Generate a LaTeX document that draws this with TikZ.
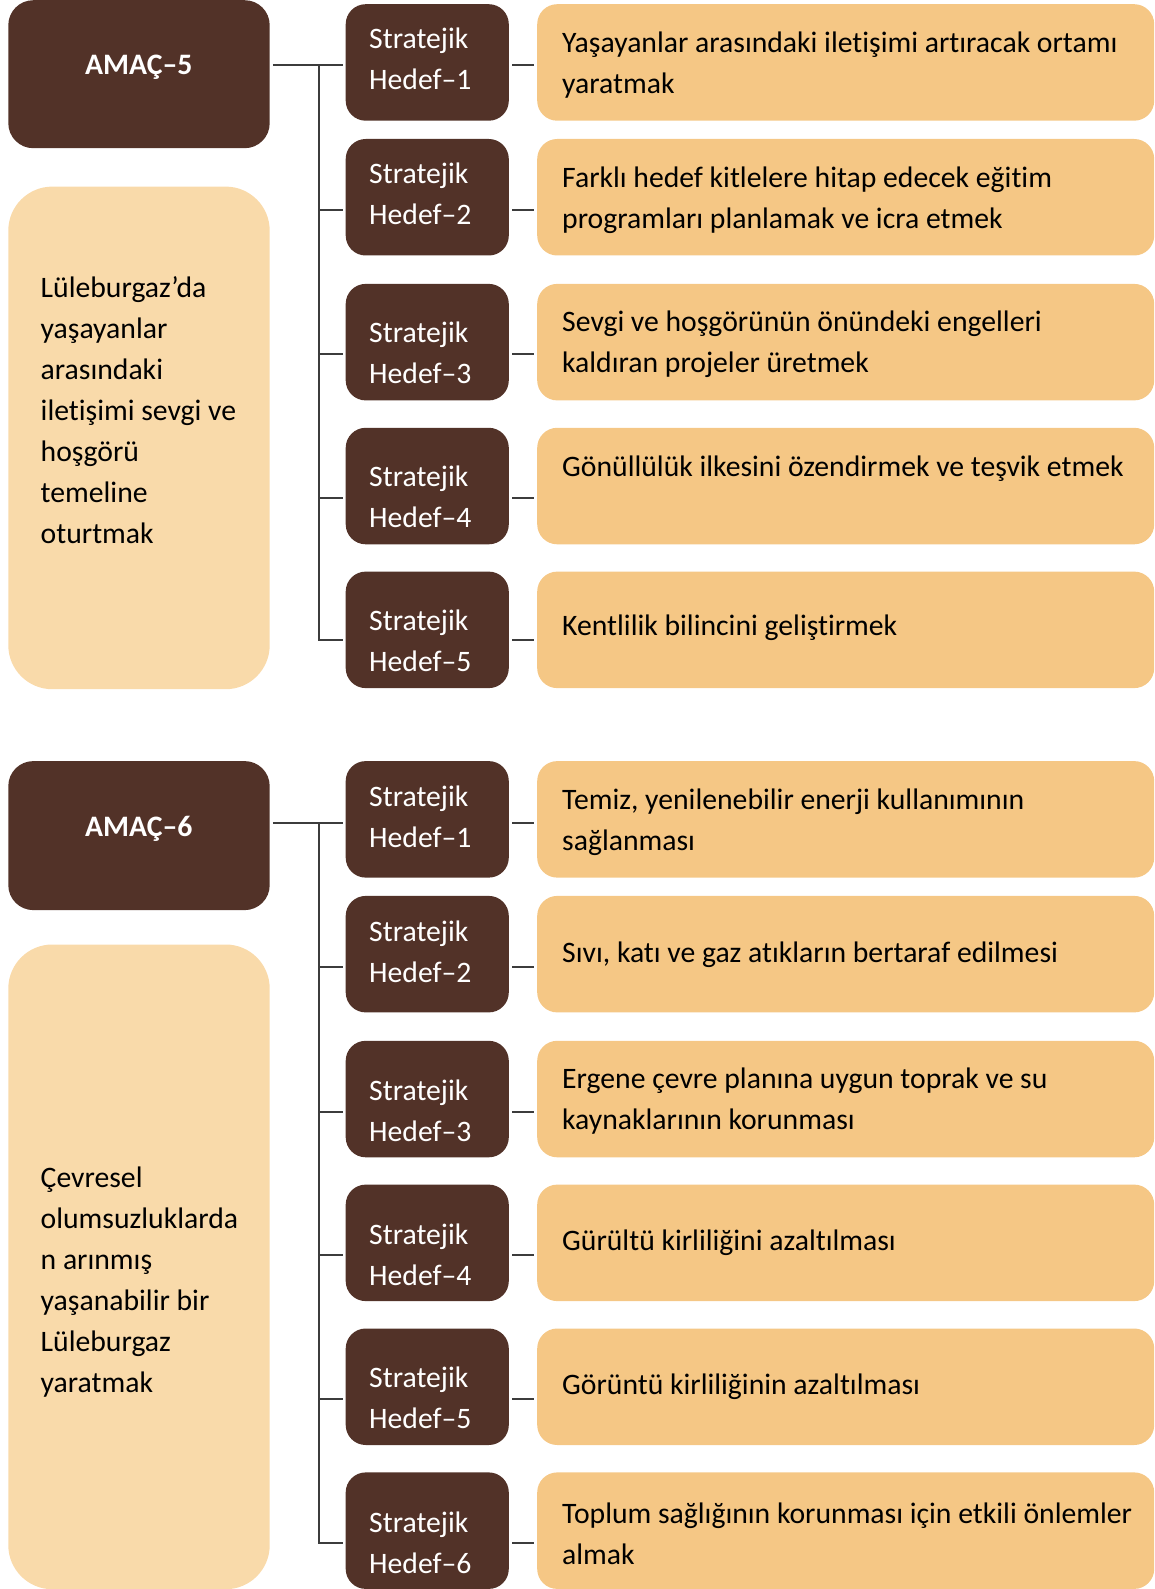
\documentclass[tikz,border=0pt]{standalone}
\usepackage{fontspec}
\setmainfont[RawFeature=-liga]{Carlito}
\usetikzlibrary{positioning}

\definecolor{brownbox}{RGB}{82,50,40}
\definecolor{descfill}{RGB}{249,218,170}
\definecolor{goalfill}{RGB}{245,199,133}
\definecolor{linkgray}{RGB}{60,60,60}

\begin{document}
\begin{tikzpicture}[
  x=1pt, y=-1pt,
  font=\fontsize{29.7}{41}\selectfont,
  amacbox/.style={fill=brownbox, rounded corners=25pt, anchor=north west,
                  minimum width=261.4pt, inner sep=0pt},
  descbox/.style={fill=descfill, rounded corners=44pt, anchor=north west,
                  minimum width=261.4pt, inner sep=0pt},
  hedefbox/.style={fill=brownbox, rounded corners=20pt, anchor=north west,
                   minimum width=163.1pt, minimum height=116.5pt, inner sep=0pt},
  goalbox/.style={fill=goalfill, rounded corners=20pt, anchor=north west,
                  minimum width=617pt, minimum height=116.5pt, inner sep=0pt},
  amactxt/.style={text=white, font=\fontsize{29.7}{41}\selectfont\bfseries, inner sep=0pt},
  hedeftxt/.style={text=white, align=left, anchor=west, inner sep=0pt},
  goaltxt/.style={text=black, align=left, anchor=west, inner sep=0pt},
  desctxt/.style={text=black, align=left, anchor=west, inner sep=0pt},
  link/.style={draw=linkgray, line width=2pt},
  branch/.style={link, shorten >=3pt, shorten <=3pt},
]
\useasboundingbox (0,0) rectangle (1155,1589);

% ------------------- AMAC-5 (upper half) -------------------
\node[amacbox, minimum height=148pt] (amac5) at (8.1,0) {};
\node[amactxt] (amac5t) at (138.8,66.8) {AMAÇ–5};
\node[descbox, minimum height=502.6pt] (desc5) at (8.1,186.4) {};
\node[desctxt] (desc5t) at (40.5,409.8)
  {Lüleburgaz’da\\yaşayanlar\\arasındaki\\iletişimi sevgi ve\\hoşgörü\\temeline\\oturtmak};

\node[hedefbox] (hedef51) at (345.5,4.0) {};
\node[hedefbox] (hedef52) at (345.5,138.8) {};
\node[hedefbox] (hedef53) at (345.5,283.7) {};
\node[hedefbox] (hedef54) at (345.5,427.6) {};
\node[hedefbox] (hedef55) at (345.5,571.4) {};

\node[hedeftxt] (hedef51t) at (369,58.8) {Stratejik\\Hedef–1};
\node[hedeftxt] (hedef52t) at (369,194.0) {Stratejik\\Hedef–2};
\node[hedeftxt] (hedef53t) at (369,352.6) {Stratejik\\Hedef–3};
\node[hedeftxt] (hedef54t) at (369,496.5) {Stratejik\\Hedef–4};
\node[hedeftxt] (hedef55t) at (369,640.3) {Stratejik\\Hedef–5};

\node[goalbox] (goal51) at (537,4.0) {};
\node[goalbox] (goal52) at (537,138.8) {};
\node[goalbox] (goal53) at (537,283.7) {};
\node[goalbox] (goal54) at (537,427.6) {};
\node[goalbox] (goal55) at (537,571.4) {};

\node[goaltxt] (goal51t) at (562,64.8)
  {Yaşayanlar arasındaki iletişimi artıracak ortamı\\yaratmak};
\node[goaltxt] (goal52t) at (562,200.1)
  {Farklı hedef kitlelere hitap edecek eğitim\\programları planlamak ve icra etmek};
\node[goaltxt] (goal53t) at (562,344.5)
  {Sevgi ve hoşgörünün önündeki engelleri\\kaldıran projeler üretmek};
\node[goaltxt] (goal54t) at (562,469.0)
  {Gönüllülük ilkesini özendirmek ve teşvik etmek};
\node[goaltxt] (goal55t) at (562,628.0)
  {Kentlilik bilincini geliştirmek};

% connector levels
\coordinate (k51) at (319.2,64.8);
\coordinate (k52) at (319.2,209.7);
\coordinate (k53) at (319.2,353.6);
\coordinate (k54) at (319.2,497.5);
\coordinate (k55) at (319.2,640.3);

\draw[branch] (amac5.east |- k51) -- (hedef51.west |- k51);
\draw[link] (k51) -- (k55);
\draw[branch, shorten <=0pt] (k52) -- (hedef52.west |- k52);
\draw[branch, shorten <=0pt] (k53) -- (hedef53.west |- k53);
\draw[branch, shorten <=0pt] (k54) -- (hedef54.west |- k54);
\draw[branch, shorten <=0pt] ([xshift=-1pt]k55) -- (hedef55.west |- k55);
\draw[branch] (hedef51.east |- k51) -- (goal51.west |- k51);
\draw[branch] (hedef52.east |- k52) -- (goal52.west |- k52);
\draw[branch] (hedef53.east |- k53) -- (goal53.west |- k53);
\draw[branch] (hedef54.east |- k54) -- (goal54.west |- k54);
\draw[branch] (hedef55.east |- k55) -- (goal55.west |- k55);

% ------------------- AMAC-6 (lower half) -------------------
\node[amacbox, minimum height=149pt] (amac6) at (8.1,760.9) {};
\node[amactxt] (amac6t) at (138.8,829.3) {AMAÇ–6};
\node[descbox, minimum height=644.7pt] (desc6) at (8.1,944.3) {};
\node[desctxt] (desc6t) at (40.5,1282.2)
  {Çevresel\\olumsuzluklarda\\n arınmış\\yaşanabilir bir\\Lüleburgaz\\yaratmak};

\node[hedefbox] (hedef61) at (345.5,760.9) {};
\node[hedefbox] (hedef62) at (345.5,895.7) {};
\node[hedefbox] (hedef63) at (345.5,1040.6) {};
\node[hedefbox] (hedef64) at (345.5,1184.4) {};
\node[hedefbox] (hedef65) at (345.5,1328.3) {};
\node[hedefbox] (hedef66) at (345.5,1472.2) {};

\node[hedeftxt] (hedef61t) at (369,816.6) {Stratejik\\Hedef–1};
\node[hedeftxt] (hedef62t) at (369,951.4) {Stratejik\\Hedef–2};
\node[hedeftxt] (hedef63t) at (369,1110.5) {Stratejik\\Hedef–3};
\node[hedeftxt] (hedef64t) at (369,1254.3) {Stratejik\\Hedef–4};
\node[hedeftxt] (hedef65t) at (369,1398.2) {Stratejik\\Hedef–5};
\node[hedeftxt] (hedef66t) at (369,1542.6) {Stratejik\\Hedef–6};

\node[goalbox] (goal61) at (537,760.9) {};
\node[goalbox] (goal62) at (537,895.7) {};
\node[goalbox] (goal63) at (537,1040.6) {};
\node[goalbox] (goal64) at (537,1184.4) {};
\node[goalbox] (goal65) at (537,1328.3) {};
\node[goalbox] (goal66) at (537,1472.2) {};

\node[goaltxt] (goal61t) at (562,822.2)
  {Temiz, yenilenebilir enerji kullanımının\\sağlanması};
\node[goaltxt] (goal62t) at (562,954.4)
  {Sıvı, katı ve gaz atıkların bertaraf edilmesi};
\node[goaltxt] (goal63t) at (562,1100.8)
  {Ergene çevre planına uygun toprak ve su\\kaynaklarının korunması};
\node[goaltxt] (goal64t) at (562,1243.2)
  {Gürültü kirliliğini azaltılması};
\node[goaltxt] (goal65t) at (562,1387.1)
  {Görüntü kirliliğinin azaltılması};
\node[goaltxt] (goal66t) at (562,1533.5)
  {Toplum sağlığının korunması için etkili önlemler\\almak};

% connector levels
\coordinate (k61) at (319.2,822.7);
\coordinate (k62) at (319.2,966.6);
\coordinate (k63) at (319.2,1111.5);
\coordinate (k64) at (319.2,1255.4);
\coordinate (k65) at (319.2,1399.2);
\coordinate (k66) at (319.2,1543.1);

\draw[branch] (amac6.east |- k61) -- (hedef61.west |- k61);
\draw[link] (k61) -- (k66);
\draw[branch, shorten <=0pt] (k62) -- (hedef62.west |- k62);
\draw[branch, shorten <=0pt] (k63) -- (hedef63.west |- k63);
\draw[branch, shorten <=0pt] (k64) -- (hedef64.west |- k64);
\draw[branch, shorten <=0pt] (k65) -- (hedef65.west |- k65);
\draw[branch, shorten <=0pt] ([xshift=-1pt]k66) -- (hedef66.west |- k66);
\draw[branch] (hedef61.east |- k61) -- (goal61.west |- k61);
\draw[branch] (hedef62.east |- k62) -- (goal62.west |- k62);
\draw[branch] (hedef63.east |- k63) -- (goal63.west |- k63);
\draw[branch] (hedef64.east |- k64) -- (goal64.west |- k64);
\draw[branch] (hedef65.east |- k65) -- (goal65.west |- k65);
\draw[branch] (hedef66.east |- k66) -- (goal66.west |- k66);

\end{tikzpicture}
\end{document}
